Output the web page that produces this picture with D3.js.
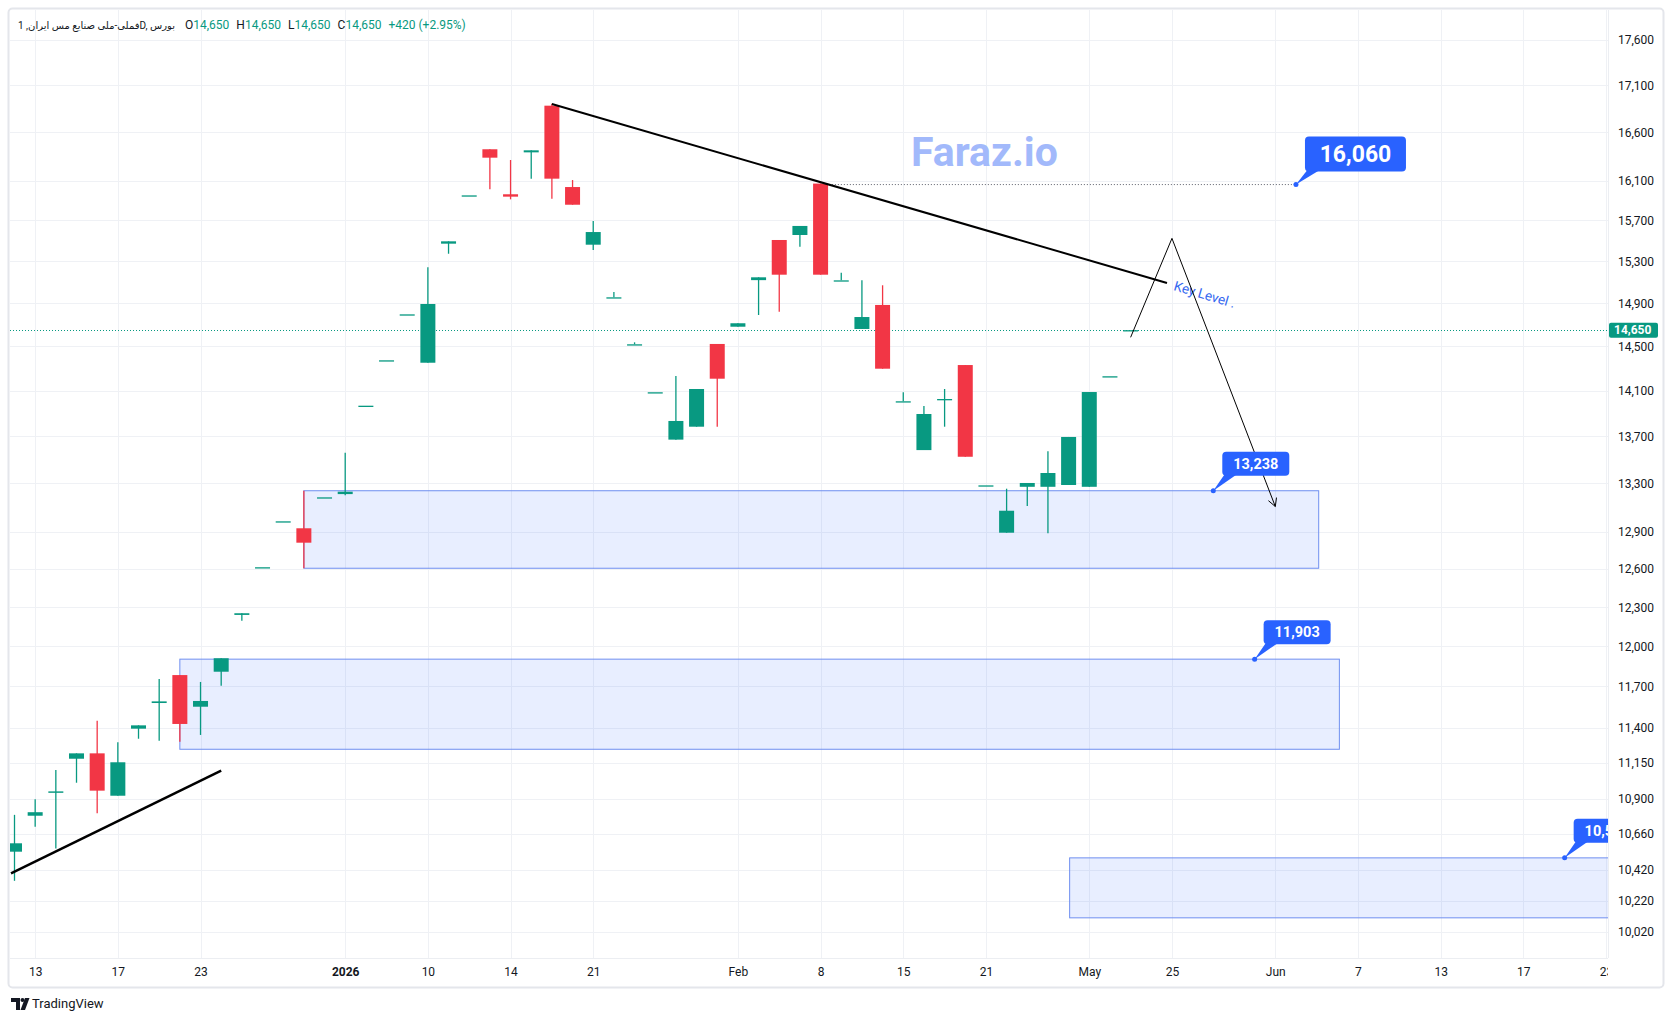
<!DOCTYPE html>
<html>
<head>
<meta charset="utf-8">
<script src="https://cdn.jsdelivr.net/npm/d3@7"></script>
<style>
  body { margin: 0; background: #fff; }
  svg text { font-family: Roboto, "Noto Sans", "DejaVu Sans", sans-serif; }
</style>
</head>
<body>
<div id="chart"></div>
<script>
// daily candles, index = bar number
var opens  = [10541,10783,10940,11178,11216,10920,11392,11578,11784,11551,11809,12240,12614,12985,12928,13183,13210,13968,14374,14797,14352,15472,15951,16422,15962,16390,16880,16035,15462,14957,14520,14087,13672,13784,14523,14682,15120,15508,15557,16070,15118,14661,14885,14007,13582,14027,14331,13283,12892,13271,13271,13286,13271,14230,14650];
var highs  = [10789,10896,11099,11216,11449,11294,11416,11755,11784,11733,11910,12253,12614,12985,13238,13183,13560,13968,14374,14797,15243,15495,15951,16422,16311,16411,16900,16106,15695,15007,14538,14087,14232,14116,14523,14714,15147,15508,15646,16070,15191,15118,15071,14087,13965,14116,14331,13283,13255,13303,13573,13695,14089,14230,14650];
var lows   = [10349,10708,10563,11010,10800,10920,11320,11306,11299,11347,11705,12196,12614,12985,12606,13183,13200,13968,14374,14797,14352,15374,15951,16012,15911,16120,15917,15857,15410,14957,14520,14087,13672,13784,13784,14682,14791,14822,15442,15172,15118,14661,14298,14007,13582,13784,13525,13283,12892,13111,12887,13286,13271,14230,14650];
var closes = [10597,10807,10950,11216,10955,11153,11416,11590,11426,11593,11910,12253,12614,12985,12811,13183,13230,13968,14374,14797,14894,15495,15951,16335,15938,16411,16120,15857,15586,14957,14520,14087,13834,14116,14208,14714,15147,15172,15646,15172,15118,14772,14298,14007,13895,14027,13525,13283,13072,13303,13387,13695,14089,14230,14650];

var timeTickBars   = [1,5,9,16,20,24,28,35,39,43,47,52,56,61,65,69,73,77];
var timeTickLabels = ["13","17","23","2026","10","14","21","Feb","8","15","21","May","25","Jun","7","13","17","23"];
var priceTicks = [17600,17100,16600,16100,15700,15300,14900,14500,14100,13700,13300,12900,12600,12300,12000,11700,11400,11150,10900,10660,10420,10220,10020];

// drawings
var zoneStart  = [14, 8, 51.05];
var zoneEnd    = [63.1, 64.1, 82];
var zoneTop    = [13238, 11903, 10500];
var zoneBottom = [12606, 11245, 10110];

var calloutBars   = [62, 58, 60, 75];
var calloutPrices = [16060, 13238, 11903, 10500];
var calloutTexts  = ["16,060", "13,238", "11,903", "10,500"];

var trendBars   = [[-0.17, 10], [26, 55.76]];
var trendPrices = [[10398, 11094], [16898, 15093]];

var pathBars   = [54, 56, 61];
var pathPrices = [14584, 15524, 13107];

var lastPrice = 14650;

var width = 1673, height = 1021;
var plot = {left: 10, top: 10, right: 1608, bottom: 958};
var up = "#089981", down = "#F23645";

var svg = d3.select("#chart").append("svg")
    .attr("width", width)
    .attr("height", height);

var x = d3.scaleLinear().domain([0, 77]).range([14.5, 1606]);
var y = d3.scaleLog().domain([10020, 17600]).range([932, 39.5]);

svg.append("defs").append("clipPath").attr("id", "plotclip")
    .append("rect")
    .attr("x", plot.left).attr("y", plot.top)
    .attr("width", plot.right - plot.left).attr("height", plot.bottom - plot.top);

// outer frame
svg.append("rect")
    .attr("x", 8.5).attr("y", 8.5)
    .attr("width", 1655).attr("height", 979)
    .attr("rx", 4)
    .attr("fill", "none")
    .attr("stroke", "#e4e6eb")
    .attr("stroke-width", 2);

// grid
var grid = svg.append("g");
grid.selectAll(".hgrid")
    .data(priceTicks)
    .enter().append("line")
    .attr("x1", plot.left).attr("x2", plot.right)
    .attr("y1", d => Math.round(y(d)) + 0.5)
    .attr("y2", d => Math.round(y(d)) + 0.5)
    .attr("stroke", "#eff1f5");
grid.selectAll(".vgrid")
    .data(timeTickBars)
    .enter().append("line")
    .attr("y1", plot.top).attr("y2", plot.bottom)
    .attr("x1", d => Math.round(x(d)) + 0.5)
    .attr("x2", d => Math.round(x(d)) + 0.5)
    .attr("stroke", "#eff1f5");

// axis borders
svg.append("line")
    .attr("x1", plot.right + 0.5).attr("x2", plot.right + 0.5)
    .attr("y1", plot.top).attr("y2", plot.bottom)
    .attr("stroke", "#eceef2");
svg.append("line")
    .attr("x1", plot.left).attr("x2", plot.right)
    .attr("y1", plot.bottom + 0.5).attr("y2", plot.bottom + 0.5)
    .attr("stroke", "#eceef2");

var g = svg.append("g").attr("clip-path", "url(#plotclip)");

// zones
g.selectAll(".zone")
    .data(zoneTop)
    .enter().append("rect")
    .attr("x", (d, i) => x(zoneStart[i]))
    .attr("y", d => y(d))
    .attr("width", (d, i) => x(zoneEnd[i]) - x(zoneStart[i]))
    .attr("height", (d, i) => y(zoneBottom[i]) - y(d))
    .attr("fill", "rgba(41,98,255,0.11)")
    .attr("stroke", "#6f8ff0")
    .attr("stroke-width", 1);

// watermark
g.append("text")
    .attr("x", 911).attr("y", 166)
    .attr("font-size", 41)
    .attr("font-weight", 700)
    .attr("fill", "#a2b9fb")
    .text("Faraz.io");

// last price line
g.append("line")
    .attr("x1", plot.left).attr("x2", plot.right)
    .attr("y1", Math.round(y(lastPrice)) + 0.5).attr("y2", Math.round(y(lastPrice)) + 0.5)
    .attr("stroke", up)
    .attr("stroke-dasharray", "1,2");

// 16,060 dotted level
g.append("line")
    .attr("x1", x(39.4)).attr("x2", x(calloutBars[0]))
    .attr("y1", y(calloutPrices[0])).attr("y2", y(calloutPrices[0]))
    .attr("stroke", "#5d606b")
    .attr("stroke-dasharray", "1,2");

// candles
var idx = d3.range(opens.length);
g.selectAll(".wick")
    .data(idx)
    .enter().append("line")
    .attr("x1", i => x(i)).attr("x2", i => x(i))
    .attr("y1", i => y(highs[i])).attr("y2", i => y(lows[i]))
    .attr("stroke", i => closes[i] >= opens[i] ? up : down)
    .attr("stroke-width", 1.3);
g.selectAll(".body")
    .data(idx)
    .enter().append("rect")
    .attr("x", i => x(i) - 7.5)
    .attr("width", 15)
    .attr("y", i => y(Math.max(opens[i], closes[i])))
    .attr("height", i => Math.max(1.3, Math.abs(y(opens[i]) - y(closes[i]))))
    .attr("fill", i => closes[i] >= opens[i] ? up : down);

// trend lines
g.selectAll(".trend")
    .data(trendBars)
    .enter().append("line")
    .attr("x1", d => x(d[0])).attr("x2", d => x(d[1]))
    .attr("y1", (d, i) => y(trendPrices[i][0]))
    .attr("y2", (d, i) => y(trendPrices[i][1]))
    .attr("stroke", "#000")
    .attr("stroke-width", (d, i) => i == 0 ? 2.5 : 2);

g.append("text")
    .attr("transform", "translate(" + (x(trendBars[1][1]) + 6) + "," + (y(trendPrices[1][1]) + 7) + ") rotate(16.5)")
    .attr("font-size", 13.5)
    .attr("fill", "#3568f0")
    .text("Key Level .");

// projected path with arrow
var pts = pathBars.map((b, i) => [x(b), y(pathPrices[i])]);
g.append("path")
    .attr("d", d3.line()(pts))
    .attr("fill", "none")
    .attr("stroke", "#000")
    .attr("stroke-width", 1);
var tip = pts[2], prev = pts[1];
var ang = Math.atan2(tip[1] - prev[1], tip[0] - prev[0]);
[-0.5, 0.5].forEach(function(a){
    g.append("line")
        .attr("x1", tip[0]).attr("y1", tip[1])
        .attr("x2", tip[0] - 9 * Math.cos(ang + a))
        .attr("y2", tip[1] - 9 * Math.sin(ang + a))
        .attr("stroke", "#000")
        .attr("stroke-width", 1);
});

// callouts
calloutBars.forEach(function(b, i){
    var px = x(b), py = y(calloutPrices[i]);
    var big = i == 0;
    var bw = big ? 101 : 67, bh = big ? 35 : 24;
    var bx = px + 9, by = py - (big ? 13 : 15) - bh;
    g.append("path")
        .attr("d", "M" + (bx + 2) + "," + (by + bh - 1) + "L" + (bx + 14) + "," + (by + bh - 1) + "L" + px + "," + py + "Z")
        .attr("fill", "#2962ff");
    g.append("circle")
        .attr("cx", px).attr("cy", py).attr("r", 2.5)
        .attr("fill", "#2962ff");
    g.append("rect")
        .attr("x", bx).attr("y", by)
        .attr("width", bw).attr("height", bh)
        .attr("rx", 4)
        .attr("fill", "#2962ff");
    // the last box runs under the price scale, so only the part left of it shows
    var label = calloutTexts[i];
    var room = plot.right - bx;
    var t = g.append("text")
        .attr("x", bx + bw / 2).attr("y", by + bh / 2)
        .attr("dy", "0.36em")
        .attr("text-anchor", "middle")
        .attr("font-size", big ? 23 : 14.5)
        .attr("font-weight", 700)
        .attr("fill", "#fff")
        .text(label);
    if (room < bw) {
        var w = t.node().getComputedTextLength();
        var start = bx + (bw - w) / 2;
        while (label.length > 1 && start + t.node().getComputedTextLength() > plot.right + 8) {
            label = label.slice(0, -1);
            t.text(label);
        }
        t.attr("text-anchor", "start").attr("x", start);
    }
});

// price axis
var yAxis = svg.append("g")
    .attr("transform", "translate(" + plot.right + ",0)")
    .call(d3.axisRight(y).tickValues(priceTicks).tickSize(0).tickPadding(10).tickFormat(d3.format(",")));
yAxis.select(".domain").remove();
yAxis.selectAll("text")
    .attr("font-size", 12)
    .attr("fill", "#131722")
    .style("font-family", "Roboto, 'Noto Sans', sans-serif");

// last price label
svg.append("rect")
    .attr("x", plot.right + 1).attr("y", y(lastPrice) - 7.5)
    .attr("width", 49).attr("height", 15)
    .attr("rx", 2)
    .attr("fill", up);
svg.append("text")
    .attr("x", plot.right + 6).attr("y", y(lastPrice))
    .attr("dy", "0.36em")
    .attr("font-size", 12)
    .attr("font-weight", 700)
    .attr("fill", "#fff")
    .text(d3.format(",")(lastPrice));

// time axis
svg.append("defs").append("clipPath").attr("id", "timeclip")
    .append("rect")
    .attr("x", plot.left).attr("y", plot.bottom)
    .attr("width", plot.right - plot.left).attr("height", 30);
var xAxis = svg.append("g")
    .attr("clip-path", "url(#timeclip)")
    .append("g")
    .attr("transform", "translate(0," + plot.bottom + ")")
    .call(d3.axisBottom(x).tickValues(timeTickBars).tickSize(0).tickPadding(9)
        .tickFormat((d, i) => timeTickLabels[i]));
xAxis.select(".domain").remove();
xAxis.selectAll("text")
    .attr("font-size", 12)
    .attr("fill", "#131722")
    .attr("font-weight", (d, i) => timeTickLabels[i] == "2026" ? 700 : 400)
    .style("font-family", "Roboto, 'Noto Sans', sans-serif");

// legend
var sym = svg.append("text")
    .attr("x", 18).attr("y", 29)
    .attr("font-size", 12)
    .attr("fill", "#131722")
    .attr("direction", "ltr")
    .text("فملی-ملی صنایع مس ایران, 1D, بورس");
var symW = sym.node().getComputedTextLength();
if (symW > 157) sym.attr("font-size", 12 * 157 / symW);
var legend = svg.append("text")
    .attr("x", 185).attr("y", 29)
    .attr("font-size", 12)
    .attr("fill", "#131722");
var ohlc = [["O", opens], ["H", highs], ["L", lows], ["C", closes]];
ohlc.forEach(function(p, k){
    legend.append("tspan").attr("dx", k == 0 ? 0 : 7).text(p[0]);
    legend.append("tspan").attr("fill", up).text(d3.format(",")(p[1][p[1].length - 1]));
});
var chg = closes[closes.length - 1] - closes[closes.length - 2];
legend.append("tspan").attr("dx", 7).attr("fill", up)
    .text("+" + chg + " (+" + (chg / closes[closes.length - 2] * 100).toFixed(2) + "%)");

// branding
var logo = svg.append("g").attr("fill", "#131722");
logo.append("path").attr("d", "M11,998H20V1010H16V1002H11Z");
logo.append("circle").attr("cx", 22.5).attr("cy", 1000).attr("r", 2);
logo.append("path").attr("d", "M25,998H29.5L25,1010H20.5Z");
svg.append("text")
    .attr("x", 32).attr("y", 1008)
    .attr("font-size", 13)
    .attr("fill", "#131722")
    .text("TradingView");
</script>
</body>
</html>
